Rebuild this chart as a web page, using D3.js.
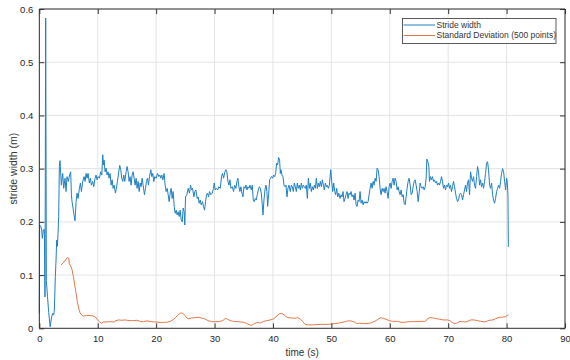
<!DOCTYPE html>
<html><head><meta charset="utf-8">
<script src="https://cdn.jsdelivr.net/npm/d3@7"></script>
<style>body{margin:0;background:#fff}svg{display:block}text{font-family:"Liberation Sans",Arial,sans-serif;fill:#262626}</style>
</head><body>
<svg id="c" width="570" height="360"></svg>
<script>
const xTicks = [0,10,20,30,40,50,60,70,80,90];
const yTicks = [0,0.1,0.2,0.3,0.4,0.5,0.6];
const seriesNames = ["Stride width","Standard Deviation (500 points)"];
const xLabel = "time (s)";
const yLabel = "stride width (m)";

const strideTime = [0,0.05,0.23,0.4,0.51,0.69,0.86,0.97,1.09,1.2,1.4,1.6,1.85,2.12,2.29,2.46,2.57,2.74,2.86,2.97,3.09,3.2,3.31,3.43,
3.54,3.77,4.0,4.17,4.4,4.57,4.74,4.97,5.2,5.37,5.49,5.6,5.77,5.94,6.11,6.29,6.46,6.63,6.86,7.03,7.2,7.43,7.66,7.83,8.0,8.17,8.34,8.57,8.74,8.91,9.14,9.31,9.54,9.71,9.89,
10.06,10.29,10.51,10.69,10.86,10.97,11.09,11.26,11.43,11.6,11.77,11.94,12.11,12.29,12.46,12.63,12.8,13.03,13.2,13.37,13.6,13.77,13.94,14.11,14.29,14.46,14.63,14.86,
15.03,15.2,15.37,15.54,15.71,15.89,16.06,16.23,16.4,16.57,16.74,16.91,17.09,17.26,17.43,17.6,17.77,18.0,18.17,18.34,18.51,18.69,18.86,19.09,19.26,19.43,19.6,19.77,
20.0,20.23,20.46,20.63,20.8,20.97,21.14,21.37,21.54,21.71,21.89,22.06,22.23,22.4,22.57,22.74,22.91,23.09,23.26,23.43,23.6,23.77,23.94,24.11,24.29,24.46,24.63,24.8,
24.91,25.03,25.26,25.49,25.71,25.89,26.06,26.23,26.46,26.63,26.8,27.03,27.2,27.37,27.54,27.71,27.94,28.11,28.29,28.46,28.63,28.8,28.97,29.14,29.37,29.6,29.83,29.94,
30.11,30.29,30.51,30.74,30.97,31.2,31.37,31.54,31.77,31.94,32.11,32.29,32.46,32.63,32.8,33.03,33.26,33.43,33.66,33.83,34.0,34.17,34.34,34.51,34.69,34.86,
35.03,35.2,35.37,35.54,35.71,35.89,36.06,36.29,36.46,36.63,36.8,36.97,37.14,37.31,37.49,37.66,37.83,38.0,38.17,38.29,38.46,38.63,38.8,38.97,39.09,39.26,39.43,39.6,39.77,39.94,
40.11,40.29,40.46,40.63,40.8,40.97,41.14,41.26,41.37,41.54,41.71,41.89,42.06,42.23,42.4,42.57,42.74,42.97,43.14,43.31,43.49,43.66,43.83,44.0,44.17,44.34,44.51,44.69,44.86,
45.03,45.2,45.37,45.54,45.71,45.89,46.06,46.23,46.4,46.57,46.74,46.91,47.09,47.26,47.43,47.6,47.77,47.94,48.11,48.29,48.46,48.63,48.8,48.97,49.14,49.31,49.49,49.66,49.89,
50.06,50.23,50.4,50.57,50.74,50.91,51.09,51.26,51.49,51.66,51.83,52.0,52.17,52.34,52.51,52.69,52.86,53.03,53.2,53.37,53.54,53.71,53.89,54.06,54.23,54.4,54.57,54.74,54.91,
55.09,55.26,55.43,55.6,55.77,55.94,56.11,56.29,56.46,56.63,56.8,56.97,57.14,57.31,57.49,57.66,57.83,58.0,58.17,58.34,58.51,58.69,58.86,59.03,59.2,59.37,59.54,59.71,59.89,
60.06,60.23,60.4,60.57,60.74,60.91,61.09,61.26,61.43,61.6,61.77,61.94,62.11,62.29,62.46,62.63,62.8,62.97,63.14,63.31,63.49,63.66,63.83,64.0,64.17,64.34,64.51,64.69,64.86,
65.03,65.2,65.37,65.54,65.71,65.89,66.06,66.23,66.34,66.51,66.69,66.8,66.97,67.14,67.31,67.49,67.66,67.83,68.0,68.17,68.34,68.51,68.69,68.86,69.03,69.2,69.37,69.54,69.71,69.89,
70.06,70.23,70.4,70.57,70.74,70.91,71.09,71.26,71.43,71.6,71.77,71.94,72.11,72.29,72.46,72.63,72.8,72.97,73.14,73.31,73.49,73.66,73.83,74.0,74.17,74.34,74.51,74.69,74.86,
75.03,75.2,75.37,75.54,75.71,75.89,76.06,76.23,76.4,76.57,76.74,76.91,77.09,77.26,77.43,77.6,77.77,77.94,78.11,78.29,78.46,78.63,78.8,78.97,79.14,79.31,79.49,79.66,79.83,
80.0,80.11,80.23,80.3];

const strideWidth = [0.028,0.194,0.192,0.185,0.169,0.185,0.186,0.059,0.583,0.09,0.06,0.03,0.003,0.022,0.028,0.025,0.034,0.097,0.128,0.166,0.154,0.178,0.21,0.304,
0.315,0.269,0.291,0.263,0.282,0.257,0.285,0.276,0.289,0.294,0.251,0.238,0.226,0.213,0.202,0.238,0.254,0.244,0.263,0.273,0.257,0.276,0.285,0.276,0.291,0.282,0.291,0.273,0.282,0.269,0.276,0.266,0.282,0.288,0.279,
0.285,0.282,0.294,0.288,0.326,0.307,0.316,0.294,0.301,0.288,0.294,0.282,0.291,0.269,0.279,0.263,0.269,0.254,0.263,0.276,0.294,0.306,0.298,0.282,0.276,0.288,0.276,0.294,
0.304,0.294,0.276,0.285,0.269,0.288,0.294,0.282,0.269,0.282,0.263,0.276,0.257,0.273,0.266,0.282,0.269,0.251,0.263,0.276,0.282,0.269,0.285,0.298,0.285,0.291,0.276,0.285,
0.282,0.291,0.285,0.288,0.282,0.288,0.279,0.291,0.269,0.257,0.263,0.251,0.238,0.254,0.263,0.244,0.257,0.229,0.216,0.222,0.213,0.219,0.21,0.222,0.204,0.2,0.226,0.219,
0.194,0.247,0.251,0.263,0.254,0.269,0.26,0.263,0.247,0.257,0.26,0.244,0.247,0.235,0.241,0.232,0.238,0.229,0.222,0.238,0.251,0.254,0.247,0.257,0.251,0.254,0.263,0.273,
0.26,0.263,0.26,0.266,0.263,0.285,0.291,0.282,0.294,0.298,0.294,0.276,0.269,0.279,0.263,0.266,0.257,0.269,0.263,0.276,0.282,0.266,0.257,0.266,0.254,0.247,
0.266,0.263,0.269,0.26,0.266,0.263,0.269,0.26,0.269,0.241,0.238,0.244,0.241,0.251,0.26,0.266,0.263,0.254,0.232,0.213,0.241,0.26,0.269,0.257,0.229,0.251,0.279,0.282,0.285,0.282,
0.288,0.285,0.291,0.31,0.307,0.321,0.316,0.291,0.298,0.288,0.285,0.269,0.266,0.269,0.247,0.263,0.269,0.257,0.269,0.266,0.257,0.273,0.266,0.257,0.273,0.263,0.269,0.26,0.273,
0.263,0.269,0.266,0.263,0.269,0.244,0.282,0.263,0.273,0.257,0.266,0.26,0.269,0.263,0.282,0.263,0.273,0.266,0.276,0.266,0.279,0.269,0.26,0.273,0.266,0.269,0.263,0.269,0.298,
0.276,0.257,0.273,0.257,0.251,0.263,0.247,0.254,0.244,0.251,0.247,0.257,0.238,0.244,0.251,0.257,0.244,0.254,0.251,0.257,0.247,0.251,0.241,0.254,0.232,0.229,0.241,0.238,0.257,
0.235,0.241,0.232,0.238,0.235,0.238,0.235,0.238,0.251,0.263,0.273,0.263,0.276,0.269,0.282,0.276,0.301,0.298,0.285,0.263,0.251,0.263,0.257,0.263,0.254,0.266,0.257,0.244,0.266,
0.273,0.263,0.276,0.282,0.269,0.282,0.276,0.26,0.266,0.257,0.251,0.26,0.247,0.251,0.235,0.232,0.247,0.263,0.276,0.282,0.269,0.251,0.254,0.266,0.276,0.279,0.269,0.257,0.238,
0.254,0.273,0.266,0.263,0.266,0.26,0.266,0.282,0.318,0.313,0.304,0.276,0.285,0.279,0.285,0.276,0.279,0.273,0.276,0.269,0.273,0.269,0.276,0.285,0.276,0.263,0.269,0.26,0.269,0.266,
0.273,0.263,0.269,0.257,0.266,0.276,0.266,0.254,0.244,0.238,0.241,0.251,0.254,0.251,0.241,0.251,0.26,0.269,0.257,0.273,0.279,0.251,0.294,0.282,0.276,0.285,0.269,0.263,0.285,
0.304,0.294,0.269,0.279,0.266,0.273,0.263,0.276,0.291,0.31,0.313,0.298,0.269,0.263,0.273,0.251,0.241,0.235,0.244,0.257,0.263,0.269,0.263,0.276,0.291,0.3,0.294,0.276,0.26,
0.282,0.276,0.251,0.153];

const sdTime = [3.71,4.11,4.46,4.8,5.03,5.14,5.37,5.6,5.83,6.06,6.29,6.51,6.74,6.97,7.26,7.54,8.11,8.69,9.26,9.6,9.94,10.29,10.63,10.97,11.54,12.11,12.69,13.14,13.54,14.11,14.69,14.97,15.54,16.11,16.69,17.26,17.83,18.4,18.97,19.54,20.11,20.69,21.26,21.83,22.4,22.86,23.31,23.77,24.23,24.57,24.91,25.26,25.6,26.06,26.63,27.2,27.77,28.34,28.91,29.49,30.17,30.74,31.2,31.54,31.89,32.23,32.69,33.26,33.83,34.4,34.97,35.43,35.89,36.34,36.69,37.26,37.83,38.4,38.97,39.54,40.11,40.69,41.14,41.68,42.14,42.54,43.1,43.67,44.24,44.64,45.1,45.56,46.24,47.38,48.52,49.66,50.51,51.37,52.22,52.79,53.36,53.93,54.33,54.79,55.64,56.5,57.07,57.64,58.09,58.49,58.89,59.34,59.91,60.48,61.34,61.91,62.48,63.33,64.19,65.04,65.9,66.18,66.47,66.87,67.44,68.0,68.58,69.15,69.89,70.28,70.63,71.03,71.42,71.88,72.45,73.02,73.48,73.87,74.44,75.01,75.58,76.15,76.55,77.01,77.58,78.15,78.72,79.29,79.86,80.31];
const sdValue = [0.119,0.123,0.128,0.133,0.132,0.121,0.117,0.11,0.097,0.081,0.066,0.05,0.038,0.029,0.025,0.023,0.024,0.024,0.023,0.021,0.016,0.0125,0.0094,0.012,0.012,0.0125,0.012,0.0144,0.0157,0.0151,0.0157,0.0151,0.0144,0.0144,0.0151,0.013,0.0125,0.0138,0.013,0.012,0.012,0.0107,0.0113,0.0113,0.013,0.0157,0.02,0.0257,0.0288,0.028,0.0244,0.0194,0.018,0.0194,0.02,0.0207,0.0194,0.0175,0.0144,0.0125,0.0125,0.0125,0.0138,0.0157,0.0188,0.0169,0.0144,0.013,0.0125,0.012,0.0113,0.0094,0.0069,0.0056,0.0081,0.0107,0.01,0.013,0.0144,0.0157,0.018,0.023,0.028,0.027,0.023,0.02,0.0194,0.0188,0.02,0.0182,0.0125,0.0069,0.0063,0.0069,0.0075,0.0075,0.0088,0.01,0.012,0.0138,0.0138,0.012,0.0088,0.0094,0.0088,0.0094,0.0113,0.0144,0.018,0.02,0.0188,0.017,0.0144,0.013,0.013,0.0113,0.0113,0.0125,0.0125,0.013,0.013,0.0138,0.018,0.02,0.0194,0.018,0.017,0.0157,0.0157,0.0144,0.0113,0.0088,0.0094,0.0125,0.0125,0.012,0.0138,0.0157,0.0157,0.0144,0.013,0.012,0.013,0.015,0.0157,0.018,0.0207,0.0207,0.022,0.0257];

const svg = d3.select("#c");
const m = {left:39.33, top:9, right:565, bottom:328.3};
const x = d3.scaleLinear().domain([0,90]).range([m.left, m.right]);
const y = d3.scaleLinear().domain([0,0.6]).range([m.bottom, m.top]);
const axisColor = "#333333";

// grid
const g = svg.append("g");
g.selectAll(".gx").data(xTicks).join("line")
  .attr("x1", d=>x(d)).attr("x2", d=>x(d)).attr("y1", m.top).attr("y2", m.bottom)
  .attr("stroke", "#e4e4e4").attr("stroke-width", 1);
g.selectAll(".gy").data(yTicks).join("line")
  .attr("y1", d=>y(d)).attr("y2", d=>y(d)).attr("x1", m.left).attr("x2", m.right)
  .attr("stroke", "#e4e4e4").attr("stroke-width", 1);

// lines
const colors = ["#1f7fc4","#e3784a"];
const line = d3.line().x(d=>x(d[0])).y(d=>y(d[1]));
const blue = strideTime.map((t,i)=>[t, strideWidth[i]]);
const orange = sdTime.map((t,i)=>[t, sdValue[i]]);
svg.append("path").datum(blue).attr("d", line).attr("fill","none").attr("stroke",colors[0]).attr("stroke-width",1).attr("stroke-linejoin","round");
svg.append("path").datum(orange).attr("d", line).attr("fill","none").attr("stroke",colors[1]).attr("stroke-width",1).attr("stroke-linejoin","round");

// axes
const ax = svg.append("g").attr("transform", `translate(0,${m.bottom})`)
  .call(d3.axisBottom(x).tickValues(xTicks).tickSize(-5).tickPadding(7).tickFormat(d=>d));
const axT = svg.append("g").attr("transform", `translate(0,${m.top})`)
  .call(d3.axisTop(x).tickValues(xTicks).tickSize(-5).tickFormat(""));
const ay = svg.append("g").attr("transform", `translate(${m.left},0)`)
  .call(d3.axisLeft(y).tickValues(yTicks).tickSize(-5).tickPadding(6).tickFormat(d=>String(+d.toFixed(1))));
const ayR = svg.append("g").attr("transform", `translate(${m.right},0)`)
  .call(d3.axisRight(y).tickValues(yTicks).tickSize(-5).tickFormat(""));
[ax,axT,ay,ayR].forEach(a=>{
  a.selectAll(".domain").attr("stroke", axisColor).attr("stroke-width",1);
  a.selectAll(".tick line").attr("stroke", axisColor);
  a.selectAll(".tick text").attr("fill", axisColor).style("font-size","9.5px").style("font-family","'Liberation Sans',Arial,sans-serif");
});
[ax,axT].forEach(a=>a.select(".domain").attr("d", `M${m.left},0H${m.right}`));
[ay,ayR].forEach(a=>a.select(".domain").attr("d", `M0,${m.top}V${m.bottom}`));

svg.append("text").attr("x", (m.left+m.right)/2).attr("y", 356).attr("text-anchor","middle")
  .style("font-size","10px").style("fill",axisColor).text(xLabel);
svg.append("text").attr("transform", `translate(16.5,${(m.top+m.bottom)/2}) rotate(-90)`).attr("text-anchor","middle")
  .style("font-size","10.5px").style("fill",axisColor).text(yLabel);

// legend
const lg = svg.append("g");
lg.append("rect").attr("x",402.5).attr("y",18.5).attr("width",153.5).attr("height",25)
  .attr("fill","#fff").attr("stroke",axisColor).attr("stroke-width",0.8);
seriesNames.forEach((s,i)=>{
  const yy = 25 + i*10.5;
  lg.append("line").attr("x1",403.5).attr("x2",435).attr("y1",yy).attr("y2",yy).attr("stroke",colors[i]).attr("stroke-width",1);
  lg.append("text").attr("x",436.5).attr("y",yy).attr("dy","0.35em").style("font-size","8.5px").style("fill",axisColor).text(s);
});
</script>
</body></html>
